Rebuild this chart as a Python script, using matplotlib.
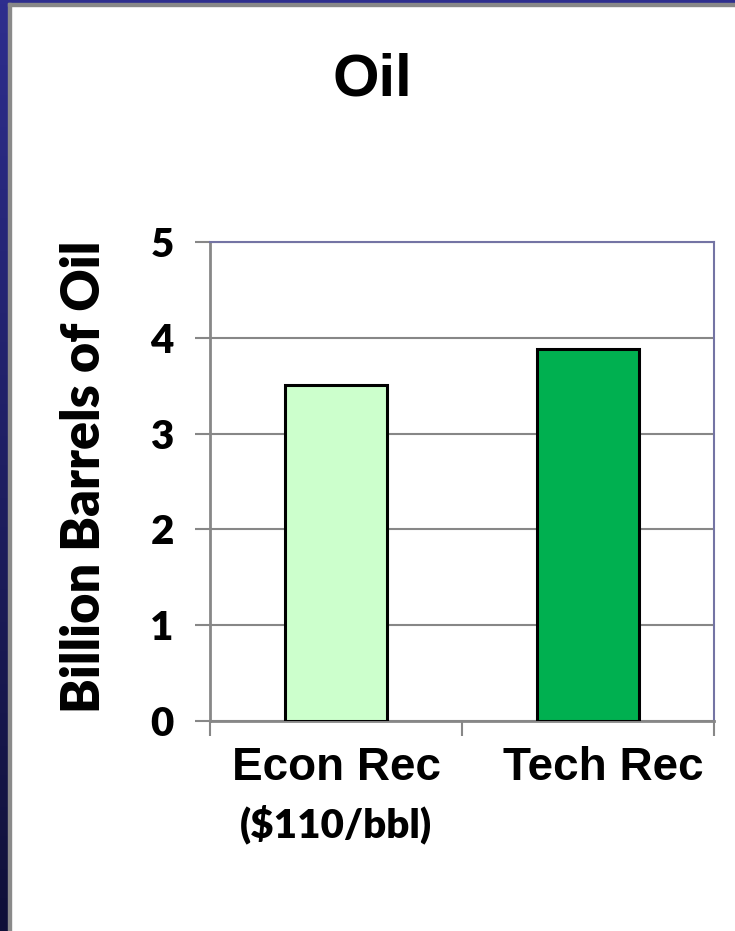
import numpy as np
import matplotlib
matplotlib.use("Agg")
import matplotlib.pyplot as plt
from matplotlib import transforms
from matplotlib.ticker import FixedLocator

# data
categories = ["Econ Rec", "Tech Rec"]
values = [3.51, 3.88]
bar_colors = ["#CCFFCC", "#00B050"]
yticks = [0, 1, 2, 3, 4, 5]

W, H, DPI = 735, 931, 100
fig = plt.figure(figsize=(W / DPI, H / DPI), dpi=DPI)
fig.patch.set_facecolor("white")

# slide frame: blue strip on the left (gradient) and top, grey inner line
grad = fig.add_axes([0, 0, 8 / W, 1])
g = np.linspace(0, 1, 256).reshape(-1, 1)
top_c = np.array([0x2e, 0x2e, 0x8e]) / 255
bot_c = np.array([0x10, 0x10, 0x38]) / 255
img = top_c[None, None, :] * (1 - g[..., None]) + bot_c[None, None, :] * g[..., None]
grad.imshow(img, aspect="auto", extent=[0, 1, 0, 1], origin="upper")
grad.axis("off")
fig.patches.append(plt.Rectangle((0, 1 - 3 / H), 1, 3 / H, transform=fig.transFigure,
                                 color="#2e2e8e", zorder=0))
fig.patches.append(plt.Rectangle((8 / W, 1 - 6 / H), 1, 3 / H, transform=fig.transFigure,
                                 color="#888888", zorder=0))
fig.patches.append(plt.Rectangle((8 / W, 0), 2.5 / W, 1 - 3 / H, transform=fig.transFigure,
                                 color="#8a8a8a", zorder=0))

ax = fig.add_axes([210 / W, 1 - 721 / H, 504 / W, 479 / H])
x = np.arange(len(categories))
ax.bar(x, values, width=0.405, color=bar_colors, edgecolor="black", linewidth=2.2, zorder=3)

ax.set_xlim(-0.5, 1.5)
ax.set_ylim(0, 5)
grid_c = "#878787"
ax.set_yticks(yticks)
ax.yaxis.grid(True, color=grid_c, linewidth=1.5, zorder=0)
ax.tick_params(axis="y", length=11, width=1.5, color=grid_c, pad=15)
for lab in ax.get_yticklabels():
    lab.set_fontfamily(["Lato", "DejaVu Sans"])
    lab.set_fontweight("heavy")
    lab.set_fontsize(29)

ax.set_xticks(x)
ax.set_xticklabels(categories, fontfamily="Liberation Sans", fontweight="bold", fontsize=33)
ax.tick_params(axis="x", which="major", length=0, pad=18)
ax.xaxis.set_minor_locator(FixedLocator([-0.5, 0.5, 1.5]))
ax.tick_params(axis="x", which="minor", length=11, width=1.5, color=grid_c)
labs = ax.get_xticklabels()
labs[1].set_transform(labs[1].get_transform() + transforms.ScaledTranslation(15 / DPI, 0, fig.dpi_scale_trans))

for side in ["left", "bottom"]:
    ax.spines[side].set_color(grid_c)
    ax.spines[side].set_linewidth(2)
for side in ["top", "right"]:
    ax.spines[side].set_color("#7474a4")
    ax.spines[side].set_linewidth(1.5)

ax.set_ylabel("Billion Barrels of Oil", fontfamily=["Lato", "DejaVu Sans"], fontweight="heavy",
              fontsize=37.5)
ax.yaxis.set_label_coords(-0.200, 0.509)

fig.text(336 / W, 1 - 825 / H, "($110/bbl)", fontfamily=["Lato", "DejaVu Sans"], fontweight="heavy",
         fontsize=29, ha="center", va="center")
fig.text(372 / W, 1 - 80 / H, "Oil", fontfamily="Liberation Sans", fontweight="bold",
         fontsize=43, ha="center", va="center")

fig.savefig("out.png", dpi=DPI)
